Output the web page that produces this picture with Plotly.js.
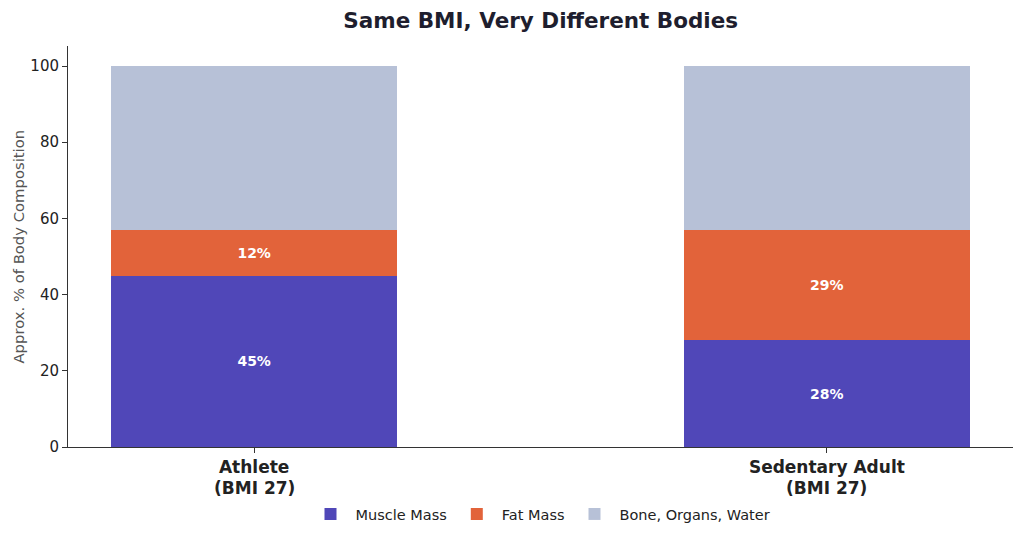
<!DOCTYPE html>
<html>
<head>
<meta charset="utf-8">
<script src="https://cdn.plot.ly/plotly-3.0.1.min.js"></script>
<style>html,body{margin:0;padding:0;background:#fff;}#chart{width:1024px;height:538px;}</style>
</head>
<body>
<div id="chart"></div>
<script>
const categories = ["Athlete", "Sedentary Adult"];
const categorySub = ["(BMI 27)", "(BMI 27)"];
const muscle = [45, 28];
const fat = [12, 29];
const other = [43, 43];
const seriesNames = ["Muscle Mass", "Fat Mass", "Bone, Organs, Water"];
const colors = ["#5047B8", "#E2633A", "#B7C1D7"];
const yTicks = [0, 20, 40, 60, 80, 100];
const yTitle = "Approx. % of Body Composition";

const font = "DejaVu Sans, sans-serif";
const xIdx = [0, 1];

function bar(vals, name, color, showText) {
  return {
    type: "bar", x: xIdx, y: vals, name: name,
    marker: {color: color, line: {width: 0}},
    width: 0.5,
    text: showText ? vals.map(v => "<b>" + v + "%</b>") : undefined,
    textposition: showText ? "inside" : "none",
    insidetextanchor: "middle",
    textfont: {family: font, size: 14, color: "#ffffff"},
    constraintext: "none",
    hoverinfo: "none"
  };
}

const data = [
  bar(muscle, seriesNames[0], colors[0], true),
  bar(fat, seriesNames[1], colors[1], true),
  bar(other, seriesNames[2], colors[2], false)
];

const annotations = xIdx.map(i => ({
  x: i, xref: "x", y: 0, yref: "paper", yanchor: "top", yshift: -29,
  text: "<b>" + categorySub[i] + "</b>", showarrow: false,
  font: {family: font, size: 17, color: "#222222"}
}));
annotations.push({
  x: 0, xref: "paper", xshift: -50, y: 0.5, yref: "paper",
  xanchor: "center", yanchor: "middle", textangle: -90,
  text: yTitle, showarrow: false,
  font: {family: font, size: 14.8, color: "#555555"}
});

const layout = {
  width: 1024, height: 538,
  paper_bgcolor: "#ffffff", plot_bgcolor: "#ffffff",
  margin: {l: 68, r: 11, t: 46, b: 91, autoexpand: false},
  barmode: "stack",
  bargap: 0,
  showlegend: true,
  font: {family: font, color: "#222222"},
  title: {text: "<b>Same BMI, Very Different Bodies</b>", x: 0.528, xanchor: "center", y: 0.962, yanchor: "middle",
          font: {family: font, size: 21.5, color: "#1e1e2e"}},
  xaxis: {
    range: [-0.325, 1.325],
    tickvals: xIdx, ticktext: categories.map(c => "<b>" + c + "</b>"),
    tickfont: {family: font, size: 17, color: "#222222"},
    showgrid: false, zeroline: false,
    showline: true, linecolor: "#333333", linewidth: 1,
    ticks: "outside", ticklen: 5, tickcolor: "#333333",
    automargin: false
  },
  yaxis: {
    range: [0, 105.25],
    tickvals: yTicks, ticktext: yTicks.map(String),
    tickfont: {family: font, size: 15, color: "#222222"},
    showgrid: false, zeroline: false,
    showline: true, linecolor: "#333333", linewidth: 1,
    ticks: "outside", ticklen: 5, tickcolor: "#333333",
    automargin: false
  },
  annotations: annotations,
  legend: {
    orientation: "h", x: 0.5, xanchor: "center", xref: "paper",
    yref: "container", y: 0.0446, yanchor: "middle",
    font: {family: font, size: 14.5, color: "#222222"},
    traceorder: "normal", itemwidth: 40
  }
};

Plotly.newPlot("chart", data, layout, {displayModeBar: false, staticPlot: true});
</script>
</body>
</html>
